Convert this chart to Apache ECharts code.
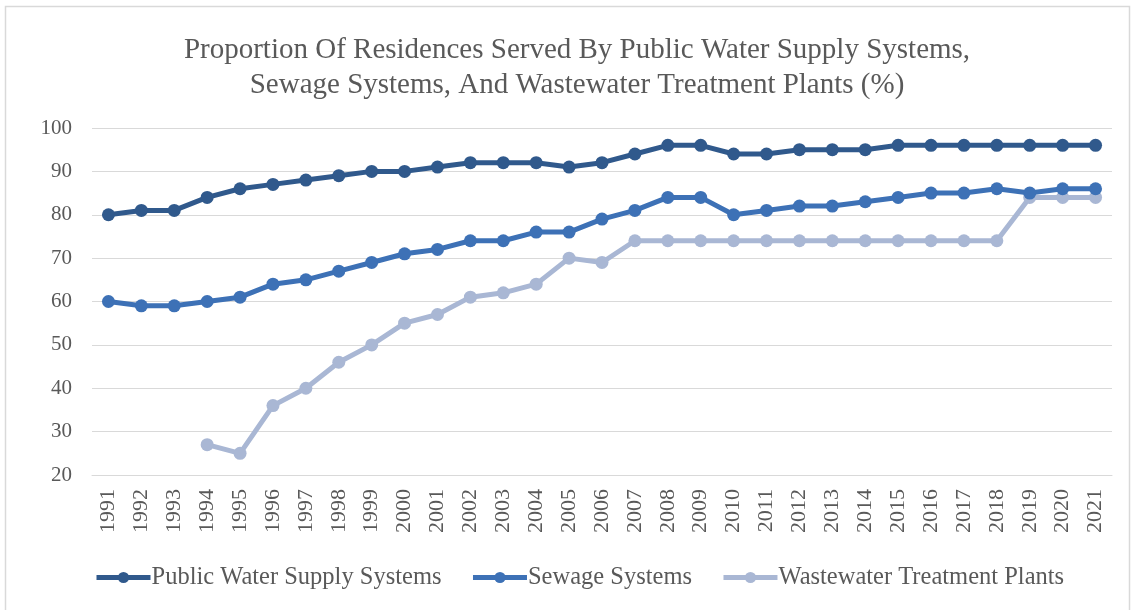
<!DOCTYPE html>
<html>
<head>
<meta charset="utf-8">
<script src="https://cdn.jsdelivr.net/npm/echarts@6/dist/echarts.min.js"></script>
<style>
  html, body { margin: 0; padding: 0; background: #ffffff; }
  #chart { width: 1134px; height: 610px; }
</style>
</head>
<body>
<div id="chart"></div>
<script>
// Years on the horizontal axis
const years = ['1991','1992','1993','1994','1995','1996','1997','1998','1999','2000',
  '2001','2002','2003','2004','2005','2006','2007','2008','2009','2010',
  '2011','2012','2013','2014','2015','2016','2017','2018','2019','2020','2021'];

// Share of residences served (%)
const publicWater = [80,81,81,84,86,87,88,89,90,90,91,92,92,92,91,92,94,96,96,94,94,95,95,95,96,96,96,96,96,96,96];
const sewage = [60,59,59,60,61,64,65,67,69,71,72,74,74,76,76,79,81,84,84,80,81,82,82,83,84,85,85,86,85,86,86];
const wastewater = [null,null,null,27,25,36,40,46,50,55,57,61,62,64,70,69,74,74,74,74,74,74,74,74,74,74,74,74,84,84,84];

const seriesNames = ['Public Water Supply Systems', 'Sewage Systems', 'Wastewater Treatment Plants'];
const seriesColors = ['#30598c', '#3d71b6', '#a9b7d4'];

const serif = '"Liberation Serif", "Times New Roman", serif';

function lineSeries(name, data, color, z) {
  return {
    name: name,
    type: 'line',
    data: data,
    z: z,
    symbol: 'circle',
    symbolSize: 13,
    connectNulls: false,
    lineStyle: { width: 5, color: color },
    itemStyle: { color: color },
    emphasis: { disabled: true }
  };
}

const chart = echarts.init(document.getElementById('chart'), null, { renderer: 'canvas' });
chart.setOption({
  animation: false,
  backgroundColor: '#ffffff',
  graphic: [{
    type: 'rect',
    shape: { x: 5.5, y: 6.5, width: 1124, height: 610 },
    style: { fill: 'none', stroke: '#d9d9d9', lineWidth: 1.5 },
    silent: true
  }],
  title: {
    text: 'Proportion Of Residences Served By Public Water Supply Systems,\nSewage Systems, And Wastewater Treatment Plants (%)',
    left: 572,
    textAlign: 'center',
    top: 28,
    textStyle: {
      fontFamily: serif,
      fontWeight: 'normal',
      fontSize: 29,
      lineHeight: 35,
      color: '#595959'
    }
  },
  grid: { left: 92, right: 22, top: 128, bottom: 135, containLabel: false },
  legend: {
    data: seriesNames,
    bottom: 15,
    left: 89,
    padding: [5, 0, 5, 5],
    itemWidth: 54,
    itemHeight: 14,
    itemGap: 29,
    lineStyle: { width: 5 },
    textStyle: { fontFamily: serif, fontSize: 24.5, color: '#595959', padding: [0, 0, 0, -4] }
  },
  xAxis: {
    type: 'category',
    data: years,
    boundaryGap: true,
    axisLine: { lineStyle: { color: '#d9d9d9', width: 1 } },
    axisTick: { show: false },
    axisLabel: {
      rotate: 90,
      interval: 0,
      margin: 14,
      fontFamily: serif,
      fontSize: 22,
      color: '#595959'
    },
    splitLine: { show: false }
  },
  yAxis: {
    type: 'value',
    min: 20,
    max: 100,
    interval: 10,
    axisLine: { show: false },
    axisTick: { show: false },
    axisLabel: {
      margin: 20,
      fontFamily: serif,
      fontSize: 21,
      color: '#595959'
    },
    splitLine: { lineStyle: { color: '#d9d9d9', width: 1 } }
  },
  series: [
    lineSeries(seriesNames[0], publicWater, seriesColors[0], 3),
    lineSeries(seriesNames[1], sewage, seriesColors[1], 2),
    lineSeries(seriesNames[2], wastewater, seriesColors[2], 1)
  ]
});
</script>
</body>
</html>
